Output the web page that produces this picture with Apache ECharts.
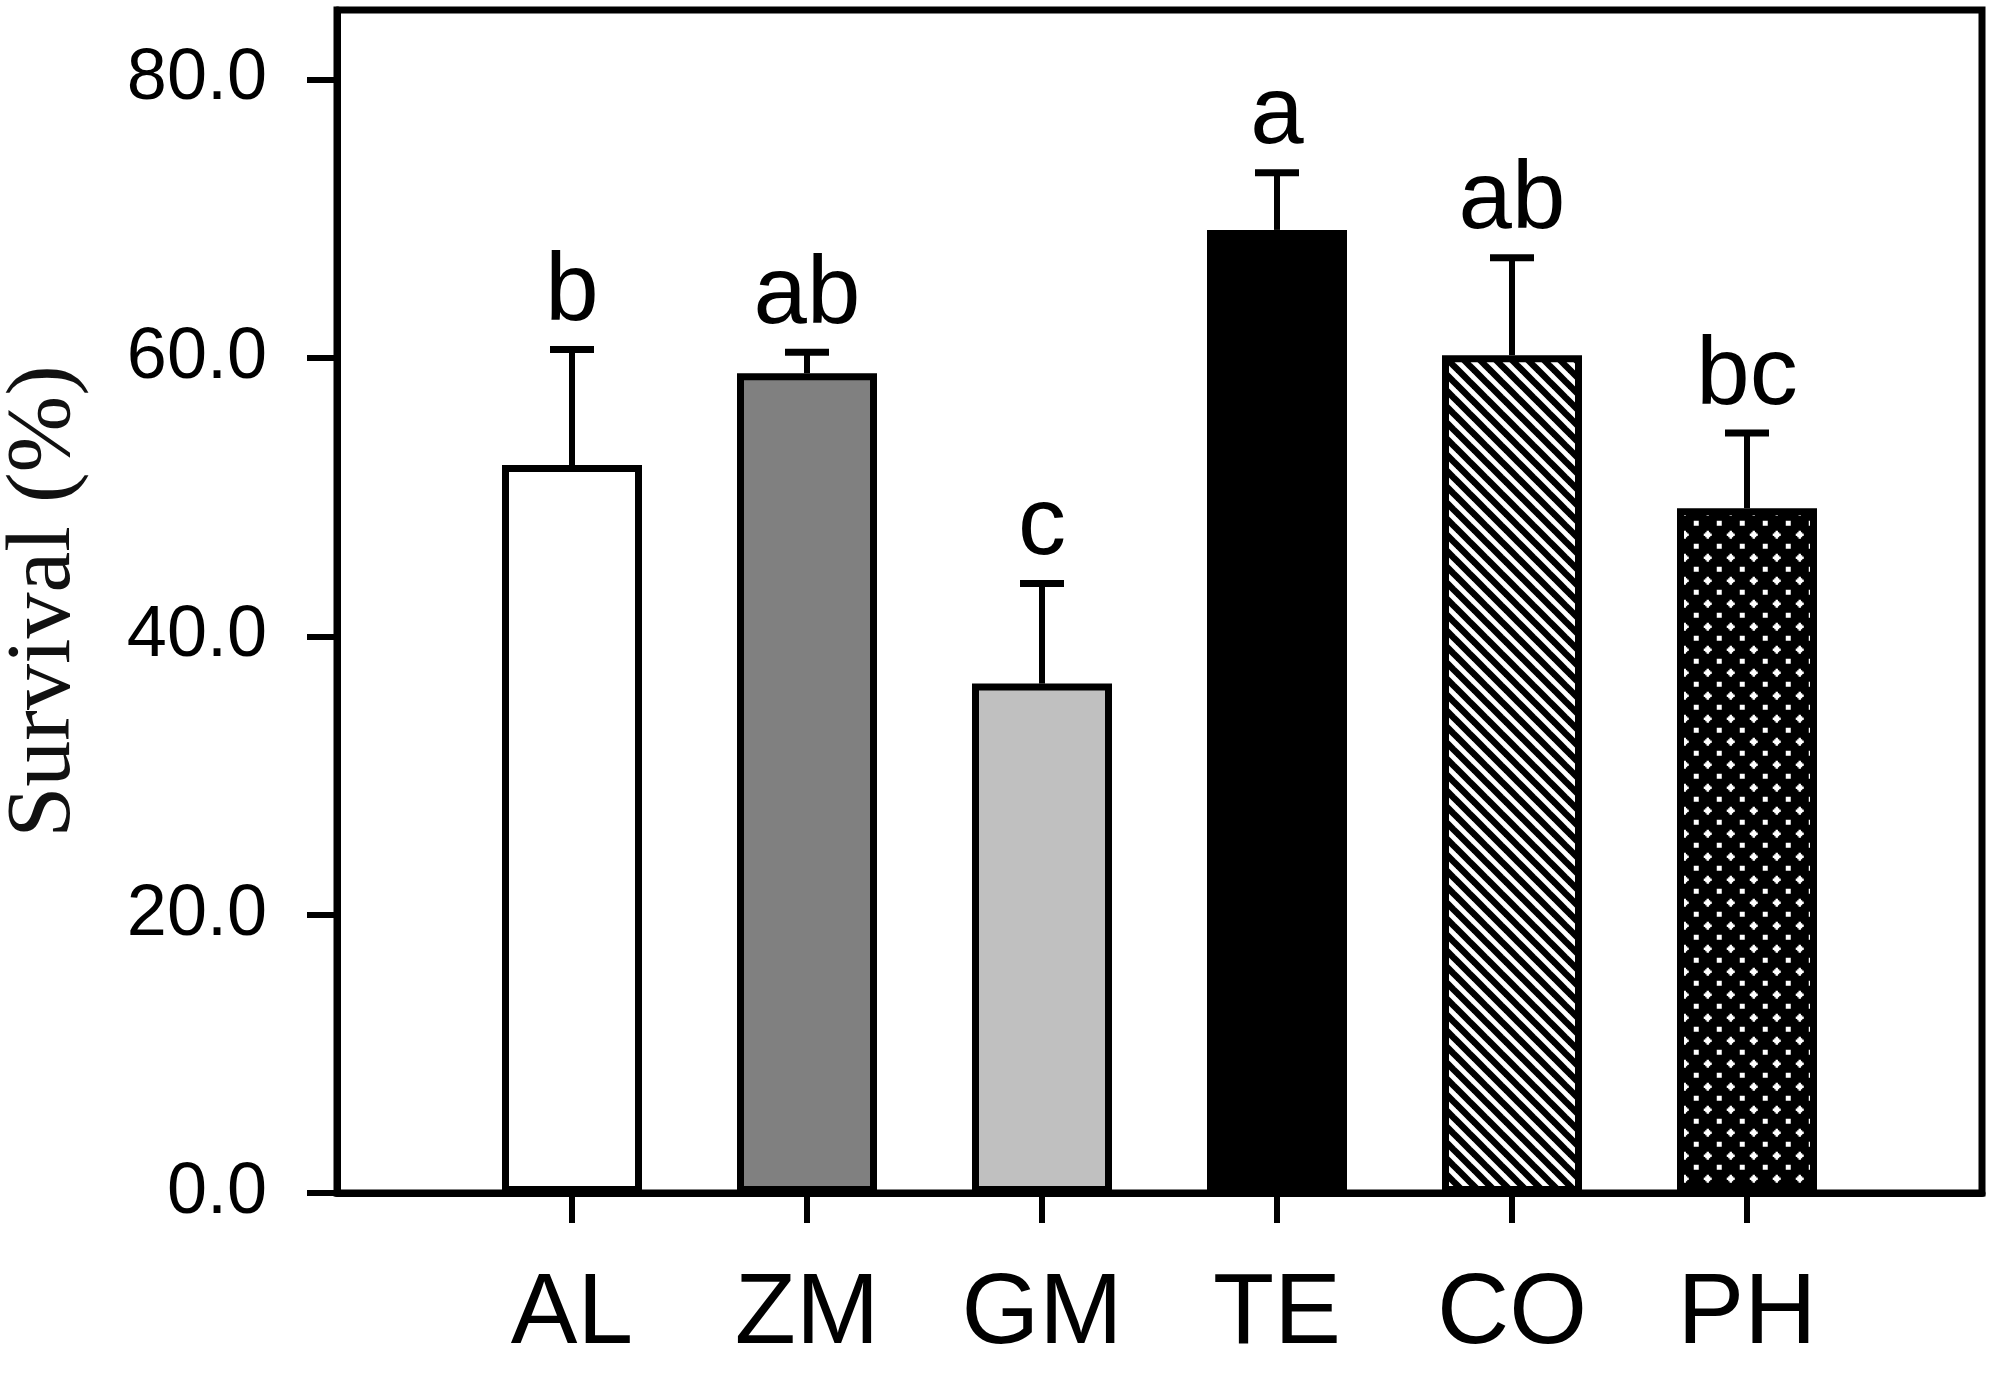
<!DOCTYPE html>
<html>
<head>
<meta charset="utf-8">
<script src="https://cdn.jsdelivr.net/npm/echarts@6/dist/echarts.min.js"></script>
<style>
html,body{margin:0;padding:0;background:#fff;}
#chart{width:1994px;height:1373px;}
</style>
</head>
<body>
<div id="chart"></div>
<script>
// ---- data ----
const categories = ['AL', 'ZM', 'GM', 'TE', 'CO', 'PH'];
const survival   = [52.3, 58.9, 36.6, 69.2, 60.2, 49.2];
const errors     = [8.3, 1.5, 7.2, 4.1, 7.0, 5.4];
const letters    = ['b', 'ab', 'c', 'a', 'ab', 'bc'];
const yTicks     = [0, 20, 40, 60, 80];
const xPositions = [1, 2, 3, 4, 5, 6];

// ---- fill patterns ----
function stripePattern() {
  const s = 16;
  const c = document.createElement('canvas');
  c.width = s; c.height = s;
  const g = c.getContext('2d');
  g.fillStyle = '#fff'; g.fillRect(0, 0, s, s);
  g.strokeStyle = '#000'; g.lineWidth = 6.5; g.lineCap = 'square';
  for (let k = -1; k <= 1; k++) {
    g.beginPath();
    g.moveTo(k * s - 2, -2);
    g.lineTo(k * s + s + 2, s + 2);
    g.stroke();
  }
  return { image: c, repeat: 'repeat' };
}
function dotPattern() {
  const w = 23, h = 23;
  const c = document.createElement('canvas');
  c.width = w; c.height = h;
  const g = c.getContext('2d');
  g.fillStyle = '#000'; g.fillRect(0, 0, w, h);
  g.fillStyle = '#fff';
  function plus(cx, cy) {
    g.fillRect(cx - 2.5, cy - 2.5, 5, 5);
    g.fillRect(cx - 4, cy - 1.2, 8, 2.4);
    g.fillRect(cx - 1.2, cy - 4, 2.4, 8);
  }
  function square(cx, cy) {
    g.fillRect(cx - 2.5, cy - 2.5, 5, 5);
  }
  plus(5.75, 5.75);
  square(17.25, 17.25);
  return { image: c, repeat: 'repeat' };
}
const fills = ['#ffffff', '#808080', '#c0c0c0', '#000000', stripePattern(), dotPattern()];

const barData = categories.map((c, i) => ({
  value: [xPositions[i], survival[i]],
  itemStyle: { color: fills[i] }
}));
const errData = categories.map((c, i) => [xPositions[i], survival[i], errors[i]]);

const sans = '"Liberation Sans", Arial, sans-serif';

const chart = echarts.init(document.getElementById('chart'));
chart.setOption({
  backgroundColor: '#ffffff',
  animation: false,
  grid: {
    left: 337, right: 12, top: 10, bottom: 180,
    show: true, borderColor: '#000', borderWidth: 7,
    backgroundColor: 'transparent',
    outerBoundsMode: 'none'
  },
  xAxis: {
    type: 'value', min: 0, max: 7, interval: 1,
    splitLine: { show: false },
    axisLine: { show: true, lineStyle: { color: '#000', width: 7 } },
    axisTick: { show: true, customValues: xPositions, length: 30, lineStyle: { color: '#000', width: 6 } },
    axisLabel: {
      show: true, customValues: xPositions, margin: 72,
      fontFamily: sans, fontSize: 100, color: '#000',
      formatter: v => categories[Math.round(v) - 1] || ''
    }
  },
  yAxis: {
    type: 'value', min: 0, max: 85, interval: 20,
    name: 'Survival (%)', nameLocation: 'middle', nameRotate: 90, nameGap: 246,
    nameTextStyle: { fontFamily: '"Liberation Serif", "Times New Roman", serif', fontSize: 92, color: '#111' },
    splitLine: { show: false },
    axisLine: { show: true, lineStyle: { color: '#000', width: 7 } },
    axisTick: { show: true, customValues: yTicks, length: 30, lineStyle: { color: '#000', width: 6 } },
    axisLabel: {
      show: true, customValues: yTicks, margin: 70,
      fontFamily: sans, fontSize: 72, color: '#000',
      formatter: v => Number(v).toFixed(1)
    }
  },
  series: [
    {
      type: 'bar',
      data: barData,
      barWidth: 140,
      itemStyle: { borderColor: '#000', borderWidth: 7 },
      z: 2
    },
    {
      type: 'custom',
      data: errData,
      encode: { x: 0, y: 1 },
      z: 3,
      renderItem: function (params, api) {
        const x = api.value(0), v = api.value(1), e = api.value(2);
        const p0 = api.coord([x, v]);
        const p1 = api.coord([x, v + e]);
        const half = 22;
        return {
          type: 'group',
          children: [
            { type: 'line', shape: { x1: p0[0], y1: p0[1], x2: p1[0], y2: p1[1] },
              style: { stroke: '#000', lineWidth: 6 } },
            { type: 'line', shape: { x1: p1[0] - half, y1: p1[1], x2: p1[0] + half, y2: p1[1] },
              style: { stroke: '#000', lineWidth: 7 } },
            { type: 'text', x: p1[0], y: p1[1] - 8,
              style: { text: letters[params.dataIndex], fontFamily: sans, fontSize: 96,
                       fill: '#000', align: 'center', verticalAlign: 'bottom' } }
          ]
        };
      }
    }
  ]
});
</script>
</body>
</html>
